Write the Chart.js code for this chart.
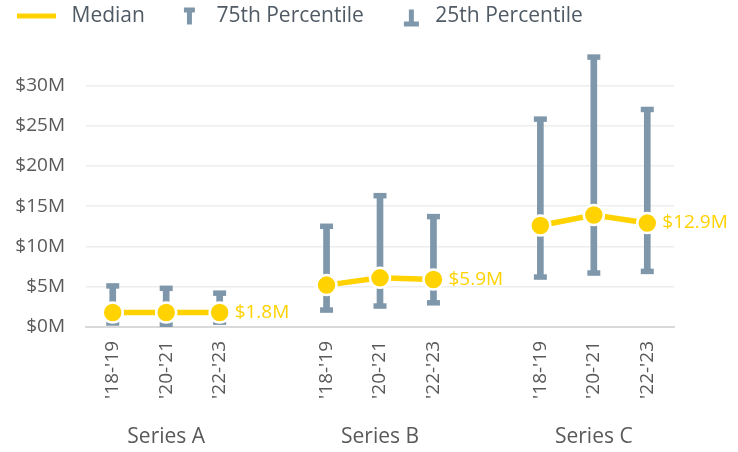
<!DOCTYPE html>
<html>
<head>
<meta charset="utf-8">
<script src="https://cdn.jsdelivr.net/npm/chart.js@4"></script>
<style>
  html, body { margin: 0; padding: 0; background: #ffffff; }
  #wrap { width: 738px; height: 452px; position: relative; }
</style>
</head>
<body>
<div id="wrap"><canvas id="c" width="738" height="452"></canvas></div>
<script>
// ---- data (values in $ millions) ----
const groups = ['Series A', 'Series B', 'Series C'];
const periods = ["'18-'19", "'20-'21", "'22-'23"];
const medianVals = [[1.8, 1.8, 1.8], [5.2, 6.1, 5.9], [12.6, 13.9, 12.9]];
const p75Vals = [[5.1, 4.8, 4.2], [12.5, 16.3, 13.7], [25.8, 33.5, 27.0]];
const p25Vals = [[0.5, 0.3, 0.6], [2.1, 2.6, 3.0], [6.2, 6.7, 6.9]];
const yTickVals = [0, 5, 10, 15, 20, 25, 30];
const legendNames = ['Median', '75th Percentile', '25th Percentile'];

// ---- derived tables ----
const xLabels = [];
groups.forEach((g, gi) => { if (gi) xLabels.push(''); periods.forEach(p => xLabels.push(p)); });
const flat = arr => arr.flatMap((g, gi) => gi ? [null, ...g] : [...g]);
const med = flat(medianVals), hi = flat(p75Vals), lo = flat(p25Vals);
const upperBars = med.map((m, i) => m == null ? null : [m, hi[i]]);
const lowerBars = med.map((m, i) => m == null ? null : [lo[i], m]);

const FONT = "'Open Sans', sans-serif";
const YELLOW = '#FFD200';
const STEEL = '#7f97ab';
const TXT = '#595959';

function icon(kind) {
  const c = document.createElement('canvas');
  c.width = 46; c.height = 30;
  const g = c.getContext('2d');
  if (kind === 0) { g.fillStyle = YELLOW; g.fillRect(2, 12, 39, 5); }
  if (kind === 1) { g.fillStyle = STEEL; g.fillRect(24, 6, 11, 5); g.fillRect(27, 6, 5, 17); }
  if (kind === 2) { g.fillStyle = STEEL; g.fillRect(25, 20, 15, 5); g.fillRect(30, 8, 5, 17); }
  return c;
}
const icons = [icon(0), icon(1), icon(2)];

const legendGap = {
  id: 'legendGap',
  afterInit(chart) {
    const lg = chart.legend;
    if (!lg) return;
    const fit = lg.fit.bind(lg);
    lg.fit = function () { fit(); this.height += 8; };
  }
};

const labelPlugin = {
  id: 'labels',
  afterDatasetsDraw(chart) {
    const ctx = chart.ctx;
    const meta = chart.getDatasetMeta(0);
    ctx.save();
    ctx.font = '19px ' + FONT;
    ctx.fillStyle = YELLOW;
    ctx.textAlign = 'left';
    ctx.textBaseline = 'middle';
    medianVals.forEach((g, gi) => {
      const idx = gi * (periods.length + 1) + periods.length - 1;
      const pt = meta.data[idx];
      ctx.fillText('$' + g[g.length - 1].toFixed(1) + 'M', pt.x + 15, pt.y);
    });
    ctx.restore();
  },
  afterDraw(chart) {
    const ctx = chart.ctx;
    const xs = chart.scales.x;
    ctx.save();
    ctx.font = '21px ' + FONT;
    ctx.fillStyle = TXT;
    ctx.textAlign = 'center';
    ctx.textBaseline = 'middle';
    groups.forEach((g, gi) => {
      const first = gi * (periods.length + 1);
      const last = first + periods.length - 1;
      const x = (xs.getPixelForValue(first) + xs.getPixelForValue(last)) / 2;
      ctx.fillText(g, x, chart.chartArea.bottom + 110);
    });
    ctx.restore();
  }
};

new Chart(document.getElementById('c'), {
  data: {
    labels: xLabels,
    datasets: [
      { type: 'line', label: 'Median', data: med, borderColor: YELLOW, borderWidth: 5.5,
        pointRadius: 10, pointHoverRadius: 10, pointBackgroundColor: YELLOW, pointBorderColor: '#ffffff',
        pointBorderWidth: 2.5, spanGaps: false, order: 0 },
      { type: 'bar', label: '75th Percentile', data: upperBars, backgroundColor: STEEL,
        barThickness: 6, grouped: false, order: 3 },
      { type: 'line', label: '75th cap', data: hi, showLine: false, pointStyle: 'line',
        pointRadius: 6.5, pointHoverRadius: 6.5, pointBorderWidth: 5.5, pointBorderColor: STEEL, borderColor: STEEL, order: 2 },
      { type: 'bar', label: '25th Percentile', data: lowerBars, backgroundColor: STEEL,
        barThickness: 6, grouped: false, order: 3 },
      { type: 'line', label: '25th cap', data: lo, showLine: false, pointStyle: 'line',
        pointRadius: 6.5, pointHoverRadius: 6.5, pointBorderWidth: 5.5, pointBorderColor: STEEL, borderColor: STEEL, order: 2 }
    ]
  },
  options: {
    responsive: false,
    animation: false,
    layout: { padding: { top: -9, right: 64, left: 0, bottom: 0 } },
    plugins: {
      tooltip: { enabled: false },
      legend: {
        position: 'top', align: 'start',
        labels: {
          usePointStyle: true, pointStyleWidth: 46, padding: 15,
          color: '#4f5a65', font: { family: FONT, size: 21 },
          generateLabels: () => legendNames.map((t, i) => ({
            text: t, pointStyle: icons[i], datasetIndex: [0, 1, 3][i],
            fillStyle: 'transparent', strokeStyle: 'transparent', lineWidth: 0, hidden: false, fontColor: '#4f5a65'
          }))
        }
      }
    },
    scales: {
      x: {
        type: 'category', offset: true,
        grid: { display: false, drawTicks: false },
        border: { display: true, color: '#d9d9d9', width: 2 },
        ticks: { autoSkip: false, minRotation: 90, maxRotation: 90, padding: 14, color: TXT, font: { family: FONT, size: 19 } },
        afterFit(s) { s.height = 125; }
      },
      y: {
        min: 0, max: 35,
        grid: { color: '#eeeeee', lineWidth: 1.5, drawTicks: false },
        border: { display: false },
        ticks: { padding: 21, color: TXT, font: { family: FONT, size: 19 }, callback: v => '$' + v + 'M' },
        afterBuildTicks(s) { s.ticks = yTickVals.map(v => ({ value: v })); },
        afterFit(s) { s.width = 86; }
      }
    }
  },
  plugins: [legendGap, labelPlugin]
});
</script>
</body>
</html>
